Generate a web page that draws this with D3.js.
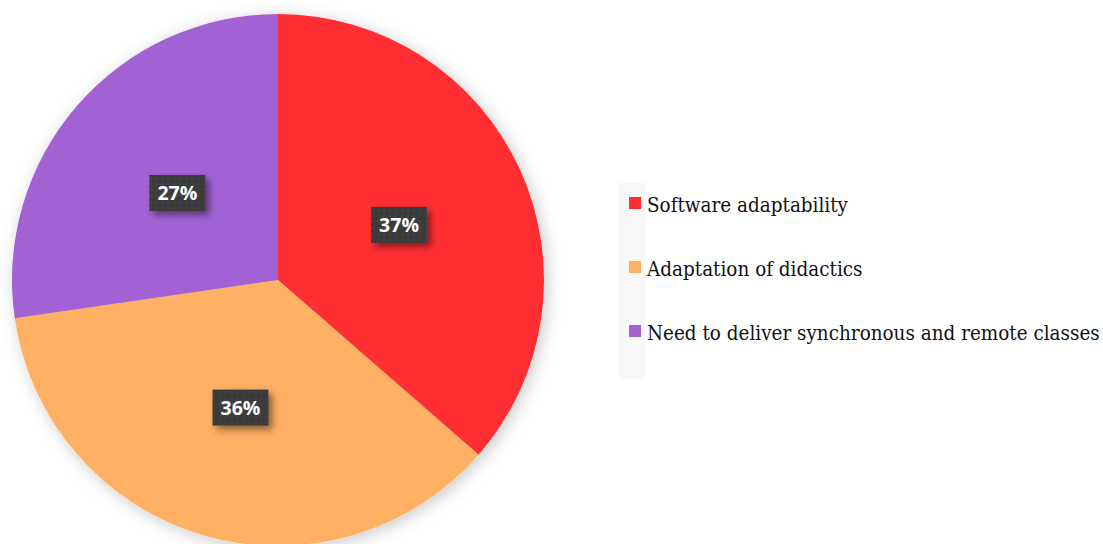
<!DOCTYPE html>
<html lang="en">
<head>
<meta charset="UTF-8">
<script src="https://cdnjs.cloudflare.com/ajax/libs/d3/7.8.5/d3.min.js"></script>
<title>Pie chart</title>
<style>
  html, body { margin: 0; padding: 0; background: #fff; }
  svg { display: block; }
</style>
</head>
<body>
<script>
    // data
    var categories = ["Software adaptability", "Adaptation of didactics", "Need to deliver synchronous and remote classes"];
    var shares = [36.4, 36.3, 27.3];
    var shareLabels = ["37%", "36%", "27%"];
    var colors = ["#ff2f30", "#ffb062", "#a262d4"];

    var width = 1103, height = 544;
    var cx = 278, cy = 280, radius = 266;

    var svg = d3.select("body").append("svg")
        .attr("width", width)
        .attr("height", height);

    var defs = svg.append("defs");
    // soft halo round the pie
    var f = defs.append("filter").attr("id", "pieShadow")
        .attr("x", "-20%").attr("y", "-20%").attr("width", "140%").attr("height", "140%");
    f.append("feDropShadow").attr("dx", 3).attr("dy", 3)
        .attr("stdDeviation", 8).attr("flood-color", "#000").attr("flood-opacity", 0.22);
    // shadow of the label boxes
    var f2 = defs.append("filter").attr("id", "boxShadow")
        .attr("x", "-50%").attr("y", "-50%").attr("width", "200%").attr("height", "200%");
    f2.append("feDropShadow").attr("dx", 4).attr("dy", 4)
        .attr("stdDeviation", 3.5).attr("flood-color", "#000").attr("flood-opacity", 0.45);
    // faint dotted texture of the boxes
    var pat = defs.append("pattern").attr("id", "dots")
        .attr("width", 6).attr("height", 6).attr("patternUnits", "userSpaceOnUse");
    pat.append("rect").attr("width", 6).attr("height", 6).attr("fill", "#3a3a3a");
    pat.append("circle").attr("cx", 3).attr("cy", 3).attr("r", 1.2).attr("fill", "#454545");

    var pie = d3.pie().value(function (d) { return d; }).sort(null);
    var arc = d3.arc().innerRadius(0).outerRadius(radius);
    var labelArc = d3.arc().innerRadius(radius * 0.5).outerRadius(radius * 0.5);

    var g = svg.append("g").attr("transform", "translate(" + cx + "," + cy + ")");

    g.append("g").attr("filter", "url(#pieShadow)")
        .selectAll("path")
        .data(pie(shares))
        .enter().append("path")
        .attr("d", arc)
        .attr("fill", function (d, i) { return colors[i]; });

    var labels = g.selectAll(".lbl")
        .data(pie(shares))
        .enter().append("g")
        .attr("class", "lbl")
        .attr("transform", function (d) {
            var c = labelArc.centroid(d);
            return "translate(" + c[0] + "," + c[1] + ")";
        });
    labels.append("rect")
        .attr("x", -28).attr("y", -18)
        .attr("width", 56).attr("height", 36)
        .attr("fill", "url(#dots)")
        .attr("filter", "url(#boxShadow)");
    labels.append("text")
        .attr("text-anchor", "middle")
        .attr("dy", "0.36em")
        .attr("fill", "#fff")
        .attr("font-family", "'Open Sans', sans-serif")
        .attr("font-weight", "bold")
        .attr("font-size", 19.5)
        .text(function (d, i) { return shareLabels[i]; });

    // legend
    var legend = svg.append("g");
    legend.append("rect")
        .attr("x", 618).attr("y", 183)
        .attr("width", 27).attr("height", 196)
        .attr("fill", "#f8f8f8");

    var rowY = d3.scalePoint().domain(categories).range([212, 340]);

    var rows = legend.selectAll(".row")
        .data(categories)
        .enter().append("g")
        .attr("class", "row");
    rows.append("rect")
        .attr("x", 629)
        .attr("y", function (d) { return rowY(d) - 15; })
        .attr("width", 12).attr("height", 12)
        .attr("fill", function (d, i) { return colors[i]; });
    var txt = rows.append("text")
        .attr("x", 647)
        .attr("y", function (d) { return rowY(d); })
        .attr("fill", "#111")
        .attr("font-family", "'DejaVu Serif Condensed', 'DejaVu Serif', serif")
        .style("font-stretch", "condensed")
        .attr("font-size", 20)
        .text(function (d) { return d; });

    // fit the longest line to the width it takes in the picture
    var longest = txt.filter(function (d, i) { return i === 2; }).node();
    var w = longest.getComputedTextLength();
    var size = 20 * 453 / w;
    txt.attr("font-size", size);
</script>
</body>
</html>
